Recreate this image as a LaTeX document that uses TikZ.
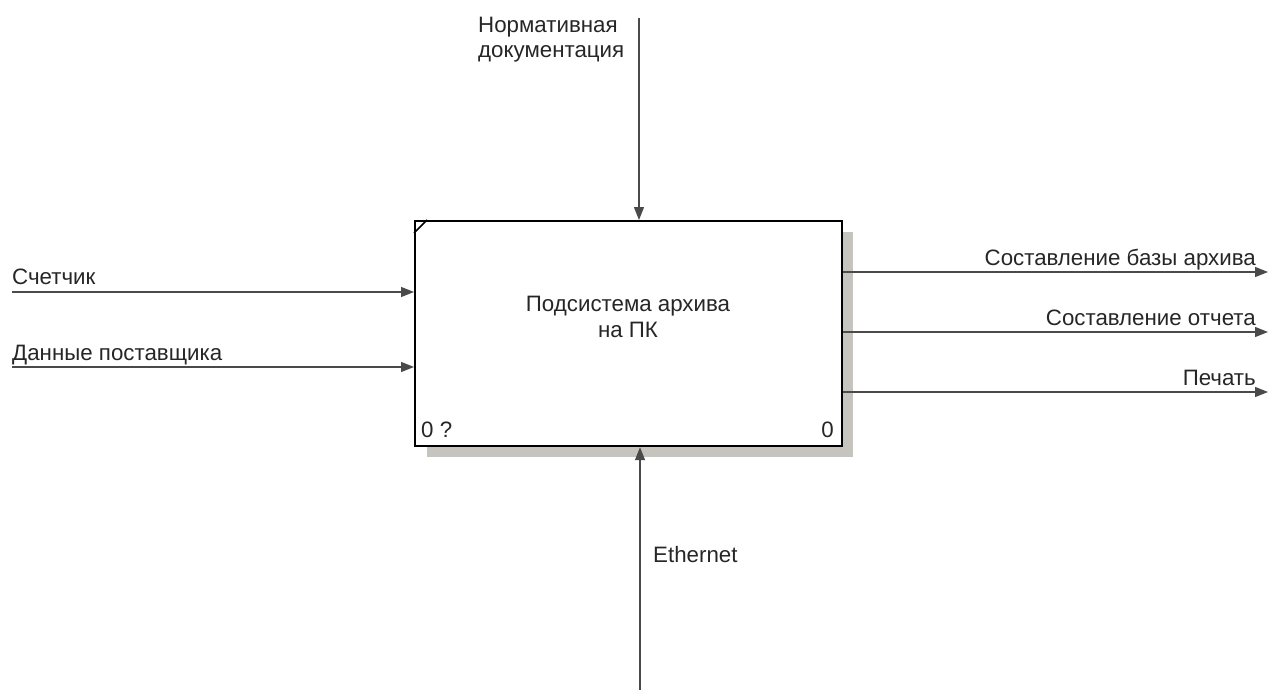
\documentclass[tikz,border=0pt]{standalone}
\usepackage{fontspec}
\setmainfont{Liberation Sans}
\usetikzlibrary{arrows.meta}
\definecolor{shadowgray}{HTML}{C6C4BE}
\definecolor{linegray}{HTML}{4A4A4A}
\definecolor{textgray}{HTML}{262626}
\begin{document}
\begin{tikzpicture}[x=1pt,y=-1pt,
  lbl/.style={font=\fontsize{22.3}{25.5}\selectfont, text=textgray, inner sep=0pt},
  flow/.style={draw=linegray, line width=1.3pt, -{Triangle[length=13pt,width=10pt]}},
  activity/.style={draw=black, line width=2.2pt, fill=white, inner sep=0pt,
    minimum width=427pt, minimum height=225pt, anchor=north west},
]
\useasboundingbox (0,0) rectangle (1268,690);
% drop shadow of the activity box
\fill[shadowgray] (427,232) rectangle (853,457);
% activity box
\node[activity] (box) at (414,220) {};
\draw[line width=1.6pt] ([yshift=-13pt]box.north west) -- ([xshift=13pt]box.north west);
\node[lbl, anchor=base, align=center] (title) at (628,337) {Подсистема архива\\на ПК};
\node[lbl, anchor=base west] (num) at (421,437) {0 ?};
\node[lbl, anchor=base east] (node) at (834,437) {0};

% control
\coordinate (ctl) at (639,18);
\draw[flow] (ctl) -- (ctl |- box.north);
\node[lbl, anchor=base west, align=left] (ctllbl) at (478,58) {Нормативная\\документация};

% inputs
\coordinate (in1) at (12,292);
\coordinate (in2) at (12,367);
\draw[flow] (in1) -- (in1 -| box.west);
\draw[flow] (in2) -- (in2 -| box.west);
\node[lbl, anchor=base west] (in1lbl) at (12,284) {Счетчик};
\node[lbl, anchor=base west] (in2lbl) at (12,360) {Данные поставщика};

% outputs
\coordinate (out1) at (1268,272);
\coordinate (out2) at (1268,332);
\coordinate (out3) at (1268,392);
\draw[flow] (out1 -| box.east) -- (out1);
\draw[flow] (out2 -| box.east) -- (out2);
\draw[flow] (out3 -| box.east) -- (out3);
\node[lbl, anchor=base east] (out1lbl) at (1256,265) {Составление базы архива};
\node[lbl, anchor=base east] (out2lbl) at (1256,325) {Составление отчета};
\node[lbl, anchor=base east] (out3lbl) at (1256,385) {Печать};

% mechanism
\coordinate (mech) at (640,690);
\draw[flow] (mech) -- (mech |- box.south);
\node[lbl, anchor=base west] (mechlbl) at (653,562) {Ethernet};
\end{tikzpicture}
\end{document}
